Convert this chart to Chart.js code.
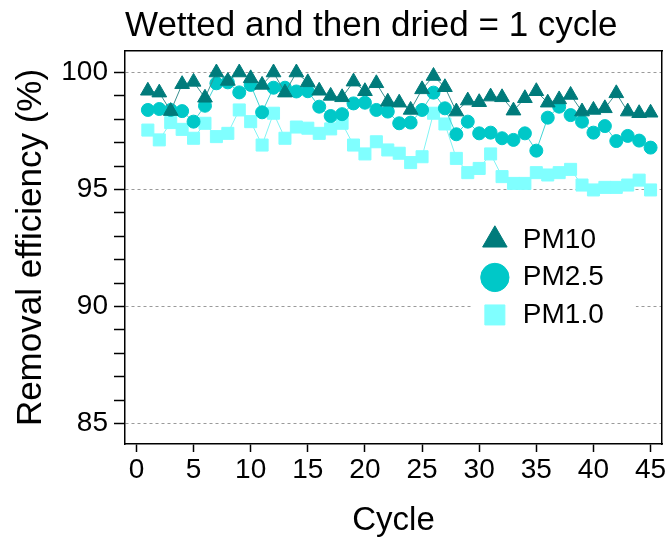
<!DOCTYPE html>
<html>
<head>
<meta charset="utf-8">
<title>Removal efficiency</title>
<script src="https://cdn.jsdelivr.net/npm/chart.js@4.4.1/dist/chart.umd.min.js"></script>
<style>
    html, body { margin: 0; padding: 0; background: #fff; }
    canvas { display: block; }
</style>
</head>
<body>
<canvas id="grafico" width="670" height="538"></canvas>
<script>
// Dados: eficiência de remoção (%) por ciclo
const ciclos = [1, 2, 3, 4, 5, 6, 7, 8, 9, 10, 11, 12, 13, 14, 15, 16, 17, 18, 19, 20, 21, 22, 23,
    24, 25, 26, 27, 28, 29, 30, 31, 32, 33, 34, 35, 36, 37, 38, 39, 40, 41, 42, 43, 44, 45];

const pm10 = [99.22, 99.14, 98.35, 99.50, 99.60, 98.92, 100.0, 99.64, 100.0, 99.75, 99.47, 100.0,
    99.14, 100.0, 99.58, 99.22, 99.00, 98.94, 99.61, 99.20, 99.54, 98.75, 98.71, 98.40, 99.28,
    99.85, 99.37, 98.33, 98.80, 98.73, 98.97, 98.94, 98.37, 98.90, 99.20, 98.71, 98.85, 99.04,
    98.33, 98.40, 98.47, 99.11, 98.33, 98.26, 98.28];

const pm25 = [98.40, 98.44, 98.40, 98.35, 97.90, 98.58, 99.54, 99.58, 99.15, 99.47, 98.30, 99.35,
    99.35, 99.19, 99.20, 98.54, 98.14, 98.22, 98.68, 98.71, 98.40, 98.33, 97.83, 97.86, 98.40,
    99.14, 98.47, 97.36, 97.90, 97.40, 97.43, 97.19, 97.12, 97.40, 96.66, 98.07, 98.54, 98.18,
    97.90, 97.43, 97.71, 97.07, 97.29, 97.09, 96.79];

const pm1 = [97.54, 97.12, 97.86, 97.57, 97.19, 97.83, 97.26, 97.40, 98.40, 97.90, 96.90, 98.26,
    97.19, 97.67, 97.62, 97.40, 97.59, 97.83, 96.90, 96.52, 97.04, 96.69, 96.55, 96.15, 96.40,
    98.26, 97.80, 96.33, 95.72, 95.90, 96.52, 95.55, 95.26, 95.26, 95.72, 95.62, 95.72, 95.86,
    95.19, 94.98, 95.09, 95.09, 95.19, 95.40, 94.98];

// Marcas dos eixos
const ticksX = [0, 5, 10, 15, 20, 25, 30, 35, 40, 45];
const ticksY = [85, 90, 95, 100];
const ticksYMenor = [85, 86, 87, 88, 89, 90, 91, 92, 93, 94, 95, 96, 97, 98, 99, 100];

const FONTE = "'Liberation Sans', Arial, sans-serif";
Chart.defaults.font.family = FONTE;
Chart.defaults.color = '#000';

const pontos = serie => ciclos.map((c, i) => ({ x: c, y: serie[i] }));

// Coloca a legenda dentro da área do gráfico, com fundo branco por cima da grade
const posLegenda = {
    id: 'posLegenda',
    afterLayout(chart) {
        const lg = chart.legend;
        const area = chart.chartArea;
        lg.left = area.left + area.width * 0.645;
        lg.top = area.top + area.height * 0.421;
        lg.right = lg.left + lg.width;
        lg.bottom = lg.top + lg.height;
    },
    beforeDatasetsDraw(chart) {
        const lg = chart.legend;
        const ctx = chart.ctx;
        ctx.save();
        ctx.fillStyle = '#fff';
        ctx.fillRect(lg.left, lg.top, lg.width + 22, 3 * 37.5);
        ctx.restore();
        lg.draw();
    }
};

const ctx = document.getElementById('grafico').getContext('2d');
new Chart(ctx, {
    type: 'line',
    data: {
        datasets: [{
            label: 'PM10',
            data: pontos(pm10),
            borderColor: '#3a9090',
            borderWidth: 1,
            pointStyle: 'triangle',
            pointRadius: 8.5,
            pointBackgroundColor: '#007b7b',
            pointBorderColor: '#007b7b',
            pointBorderWidth: 1
        }, {
            label: 'PM2.5',
            data: pontos(pm25),
            borderColor: '#40d4d4',
            borderWidth: 1,
            pointStyle: 'circle',
            pointRadius: 6.5,
            pointBackgroundColor: '#00c8c8',
            pointBorderColor: '#00c8c8',
            pointBorderWidth: 1
        }, {
            label: 'PM1.0',
            data: pontos(pm1),
            borderColor: '#80f4f4',
            borderWidth: 1,
            pointStyle: 'rect',
            pointRadius: 8.5,
            pointBackgroundColor: '#80ffff',
            pointBorderColor: '#80ffff',
            pointBorderWidth: 1
        }]
    },
    options: {
        responsive: false,
        animation: false,
        layout: { padding: 0, autoPadding: false },
        plugins: {
            title: { display: false },
            tooltip: { enabled: false },
            legend: {
                position: 'chartArea',
                align: 'start',
                labels: {
                    usePointStyle: true,
                    boxWidth: 28,
                    boxHeight: 20,
                    padding: 9.5,
                    font: { size: 28 },
                    color: '#000'
                }
            }
        },
        scales: {
            x: {
                type: 'linear',
                position: 'bottom',
                min: -1,
                max: 46,
                afterBuildTicks: s => { s.ticks = ticksX.map(v => ({ value: v })); },
                afterFit: s => { s.height = 94; },
                ticks: { font: { size: 28 }, padding: 1, maxRotation: 0, autoSkip: false },
                grid: { drawOnChartArea: false, tickLength: 8, tickColor: '#000', tickWidth: 1.5 },
                border: { color: '#000', width: 1.5 },
                title: { display: true, text: 'Cycle', font: { size: 33 }, padding: { top: 0, bottom: -3 } }
            },
            y: {
                type: 'linear',
                position: 'left',
                min: 84.12,
                max: 100.92,
                afterBuildTicks: s => { s.ticks = ticksYMenor.map(v => ({ value: v })); },
                afterFit: s => { s.width = 125; },
                ticks: {
                    font: { size: 28 },
                    padding: 6,
                    autoSkip: false,
                    callback: v => ticksY.includes(v) ? v : ''
                },
                grid: {
                    color: c => ticksY.includes(c.tick.value) ? '#9a9a9a' : 'rgba(0,0,0,0)',
                    lineWidth: 1,
                    tickLength: 11,
                    tickColor: '#000',
                    tickWidth: 1.5
                },
                border: { color: '#000', width: 1.5, dash: [3, 3] },
                title: { display: true, text: 'Removal efficiency (%)', font: { size: 35 }, padding: { top: 10.5, bottom: 0 } }
            },
            // eixo de cima: só a moldura e o título
            xTopo: {
                type: 'linear',
                position: 'top',
                display: true,
                afterFit: s => { s.height = 51; },
                ticks: { display: false },
                grid: { drawOnChartArea: false, drawTicks: false },
                border: { color: '#000', width: 1.5 },
                title: {
                    display: true,
                    text: 'Wetted and then dried = 1 cycle',
                    align: 'start',
                    font: { size: 35 },
                    padding: { top: 5.5, bottom: 0 }
                }
            },
            // eixo da direita: só a moldura
            yDireita: {
                type: 'linear',
                position: 'right',
                display: true,
                afterFit: s => { s.width = 8; },
                ticks: { display: false },
                grid: { drawOnChartArea: false, drawTicks: false },
                border: { color: '#000', width: 1.5 }
            }
        }
    },
    plugins: [posLegenda]
});
</script>
</body>
</html>
